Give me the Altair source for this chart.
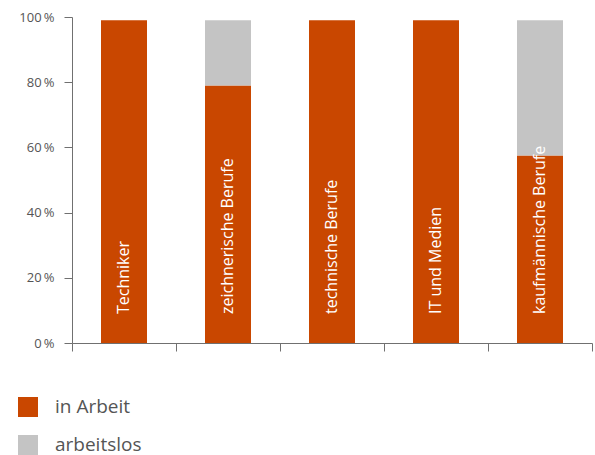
import altair as alt
import pandas as pd

categories = ["Techniker", "zeichnerische Berufe", "technische Berufe", "IT und Medien", "kaufmännische Berufe"]
in_arbeit = [99, 79, 99, 99, 57.5]
arbeitslos = [0, 20, 0, 0, 41.5]
series = ["in Arbeit", "arbeitslos"]
colors = ["#C94700", "#C4C4C4"]
y_ticks = [0, 20, 40, 60, 80, 100]

rows = []
for i, c in enumerate(categories):
    rows.append({"pos": i + 0.5, "cat": c, "series": series[0], "value": in_arbeit[i], "order": 0})
    rows.append({"pos": i + 0.5, "cat": c, "series": series[1], "value": arbeitslos[i], "order": 1})
df = pd.DataFrame(rows)
lab = pd.DataFrame({"pos": [i + 0.5 for i in range(len(categories))], "cat": categories, "zero": [0] * len(categories)})

FONT = "Open Sans"
AX = "#707070"

x_enc = alt.X(
    "pos:Q",
    scale=alt.Scale(domain=[0, len(categories)], nice=False, zero=False, padding=0),
    axis=alt.Axis(values=list(range(len(categories) + 1)), labels=False, title=None, grid=False,
                  tickSize=8, domainColor=AX, tickColor=AX, offset=0),
)

bars = alt.Chart(df).mark_bar(size=46).encode(
    x=x_enc,
    y=alt.Y("value:Q", stack="zero",
            scale=alt.Scale(domain=[0, 100], nice=False, padding=0),
            axis=alt.Axis(values=y_ticks, labelExpr="datum.value + '\u2009%'", title=None, grid=False,
                          tickSize=8, labelPadding=10, labelFontSize=13, labelFont=FONT,
                          labelColor="#555555", domainColor=AX, tickColor=AX, offset=0)),
    color=alt.Color("series:N", scale=alt.Scale(domain=series, range=colors),
                    legend=alt.Legend(orient="none", legendX=-54, legendY=380, title=None,
                                      symbolType="square", symbolSize=400, symbolStrokeWidth=0,
                                      labelFontSize=19, labelFont=FONT, labelColor="#555555",
                                      labelOffset=17, rowPadding=18)),
    order=alt.Order("order:Q"),
)

texts = alt.Chart(lab).mark_text(angle=270, align="left", baseline="middle", dx=29,
                                 color="white", fontSize=16, font=FONT).encode(
    x=alt.X("pos:Q"),
    y=alt.Y("zero:Q"),
    text="cat:N",
)

chart = alt.layer(bars, texts).properties(
    width=520, height=326,
    autosize=alt.AutoSizeParams(type="none"),
    padding={"left": 72, "top": 17, "right": 3, "bottom": 112},
).configure_view(stroke=None)

chart.save("out.html", embed_options={"renderer": "svg", "actions": False})
